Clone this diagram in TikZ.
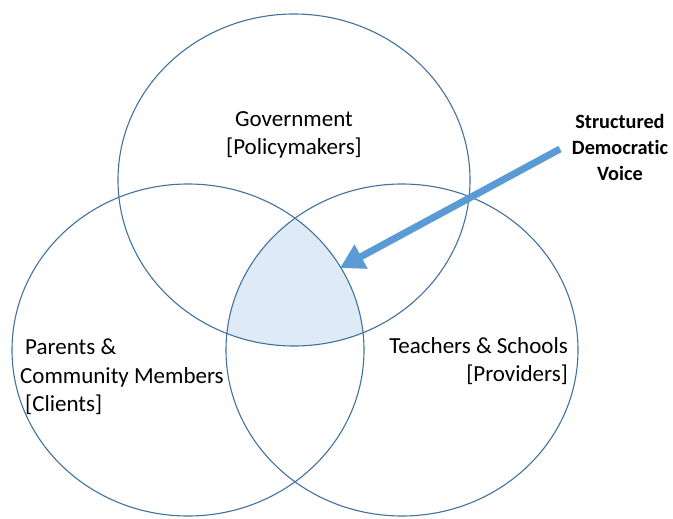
\documentclass[tikz,border=0pt]{standalone}
\usepackage{fontspec}
\setmainfont{Carlito}[Ligatures=NoCommon]
\usetikzlibrary{arrows.meta}
\definecolor{ringblue}{RGB}{65,113,156}
\definecolor{shadeblue}{RGB}{222,235,247}
\definecolor{arrowblue}{RGB}{91,155,213}
\tikzset{
  ring/.style={draw=ringblue, line width=1.1pt},
  lbl/.style={inner sep=0pt, font=\fontsize{23}{28.5}\selectfont, text=black},
  voicelbl/.style={inner sep=0pt, font=\fontsize{20.3}{26}\selectfont\bfseries, text=black, align=center},
  bigarrow/.style={draw=arrowblue, line width=7pt, -{Triangle[width=26pt,length=24pt]}}
}
\begin{document}
\begin{tikzpicture}[x=1pt,y=-1pt]
\useasboundingbox (0,0) rectangle (673,519);
% shaded common region
\begin{scope}
  \clip (294,180) ellipse [x radius=176pt, y radius=166pt];
  \clip (188,350) ellipse [x radius=176pt, y radius=166pt];
  \fill[shadeblue] (402,350) ellipse [x radius=176pt, y radius=166pt];
\end{scope}
% three circles
\draw[ring] (294,180) ellipse [x radius=176pt, y radius=166pt];
\draw[ring] (188,350) ellipse [x radius=176pt, y radius=166pt];
\draw[ring] (402,350) ellipse [x radius=176pt, y radius=166pt];
% labels
\node[lbl, align=center] (gov) at (294,135) {Government\\{}[Policymakers]};
\node[lbl, align=left, anchor=west] (par) at (20,377) {\hspace*{5pt}Parents \&\\Community Members\\\hspace*{5pt}[Clients]};
\node[lbl, align=right, anchor=east] (tea) at (568,361) {Teachers \& Schools\\{}[Providers]};
\node[voicelbl] (voice) at (620,147) {Structured\\Democratic\\Voice};
% arrow
\coordinate (tail) at (560,149);
\coordinate (tip) at (340,268);
\draw[bigarrow] (tail) -- (tip);
\end{tikzpicture}
\end{document}
